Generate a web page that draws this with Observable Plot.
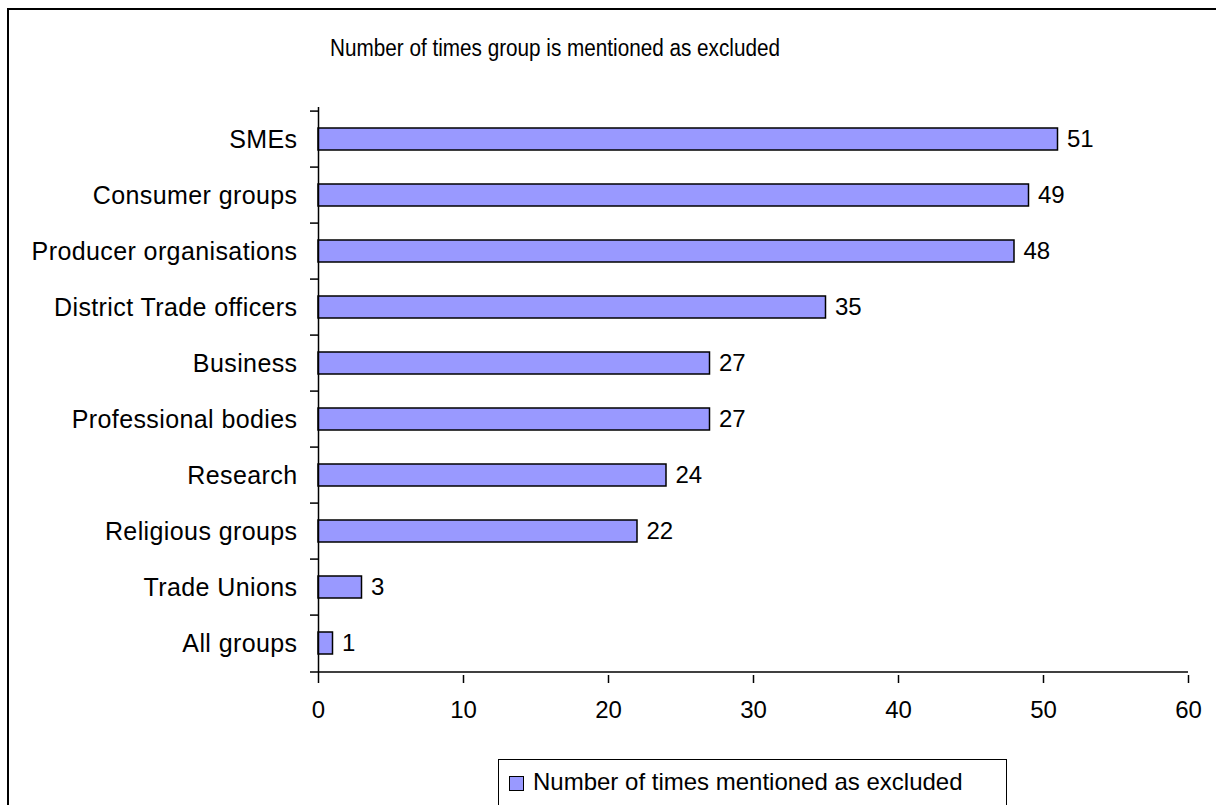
<!DOCTYPE html>
<html>
<head>
<meta charset="utf-8">
<script src="https://cdn.jsdelivr.net/npm/d3@7"></script>
<script src="https://cdn.jsdelivr.net/npm/@observablehq/plot@0.6"></script>
<style>
  html, body { margin: 0; padding: 0; background: #fff; }
  #chart {
    position: relative; width: 1216px; height: 805px; overflow: hidden;
    font-family: "Liberation Sans", Arial, sans-serif; color: #000; background: #fff;
  }
  #frame {
    position: absolute; left: 7px; top: 8px; width: 1400px; height: 1000px;
    border: 2.5px solid #000; box-sizing: border-box;
  }
  #title {
    position: absolute; left: 0; width: 1110px; top: 35px; text-align: center;
    font-size: 23px; white-space: nowrap; transform: scaleX(0.9); transform-origin: 555px 0;
  }
  #plot { position: absolute; left: 0; top: 70px; }
  #plot g[aria-label="y-axis tick label"] text { letter-spacing: 0.4px; }
  #legend {
    position: absolute; left: 498px; top: 759px; width: 509px; height: 80px;
    border: 1.2px solid #000; box-sizing: border-box; background: #fff;
  }
  #legend .swatch {
    position: absolute; left: 10px; top: 16px; width: 13px; height: 13px;
    background: #9999ff; border: 1.5px solid #000;
  }
  #legend .label {
    position: absolute; left: 34px; top: 8px; font-size: 24px; white-space: nowrap;
  }
</style>
</head>
<body>
<div id="chart">
  <div id="frame"></div>
  <div id="title">Number of times group is mentioned as excluded</div>
  <div id="plot"></div>
  <div id="legend"><span class="swatch"></span><span class="label">Number of times mentioned as excluded</span></div>
</div>
<script>
// Groups, listed top to bottom, with their counts
const groups = [
  "SMEs",
  "Consumer groups",
  "Producer organisations",
  "District Trade officers",
  "Business",
  "Professional bodies",
  "Research",
  "Religious groups",
  "Trade Unions",
  "All groups"
];
const counts = [51, 49, 48, 35, 27, 27, 24, 22, 3, 1];
const xTicks = [0, 10, 20, 30, 40, 50, 60];
const seriesName = "Number of times mentioned as excluded";

const data = groups.map((name, i) => ({name, value: counts[i]}));

// Layout
const W = 1216, H = 675;
const mL = 318, mR = 28, mT = 37, mB = 70;
const xMax = xTicks[xTicks.length - 1];
const step = (H - mT - mB) / groups.length;     // height of one category band
const pxPerUnit = (W - mL - mR) / xMax;
const tickLen = 8 / pxPerUnit;                   // outer tick length in data units

const chart = Plot.plot({
  width: W,
  height: H,
  marginLeft: mL,
  marginRight: mR,
  marginTop: mT,
  marginBottom: mB,
  style: {
    fontFamily: "'Liberation Sans', Arial, sans-serif",
    fontSize: "24px",
    color: "#000",
    background: "transparent",
    overflow: "visible"
  },
  x: {domain: [0, xMax], ticks: xTicks},
  y: {domain: groups, paddingInner: 0.61, paddingOuter: 0.305},
  marks: [
    Plot.barX(data, {
      x: "value", y: "name",
      fill: "#9999ff", stroke: "#000", strokeWidth: 1.5
    }),
    Plot.text(data, {
      x: "value", y: "name", text: d => String(d.value),
      textAnchor: "start", dx: 9, fontSize: 24, fill: "#000"
    }),
    // value axis
    Plot.ruleX([0], {stroke: "#000", strokeWidth: 1.5}),
    // category separators on the value axis
    Plot.ruleY(groups, {y: d => d, dy: -step / 2, x1: -tickLen, x2: 0, stroke: "#000", strokeWidth: 1.5}),
    // baseline of the chart, including its outer tick
    Plot.ruleY([groups[groups.length - 1]], {dy: step / 2, x1: -tickLen, x2: xMax, stroke: "#000", strokeWidth: 1.5}),
    Plot.axisX({ticks: xTicks, tickSize: 8, tickPadding: 17, strokeWidth: 1.5, label: null, tickFormat: d => String(d), fontSize: 24}),
    Plot.axisY({tickSize: 0, tickPadding: 21, label: null, fontSize: 25})
  ]
});
document.getElementById("plot").appendChild(chart);
</script>
</body>
</html>
